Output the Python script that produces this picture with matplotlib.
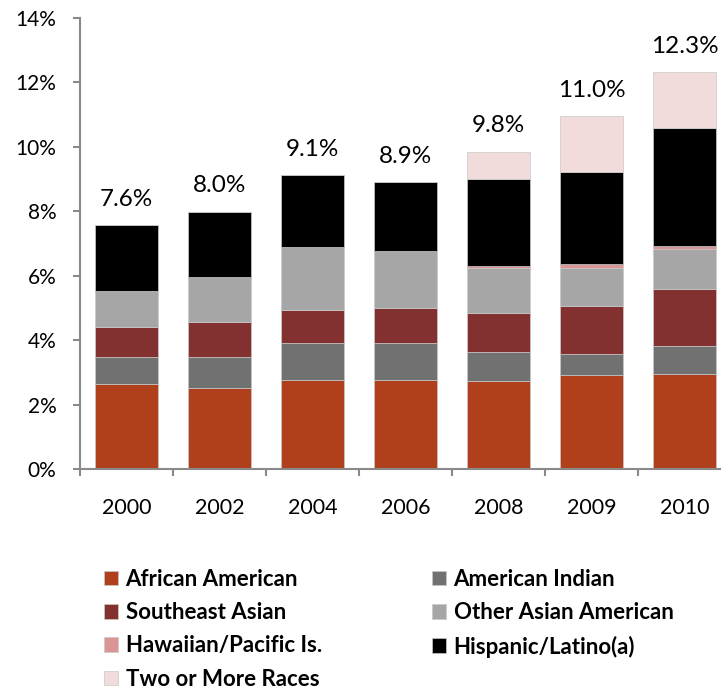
import numpy as np
import matplotlib.pyplot as plt
from matplotlib.ticker import FuncFormatter, FixedLocator

years = ["2000", "2002", "2004", "2006", "2008", "2009", "2010"]

african_american = [2.65, 2.51, 2.77, 2.77, 2.75, 2.91, 2.96]
american_indian = [0.82, 0.98, 1.15, 1.16, 0.90, 0.65, 0.86]
southeast_asian = [0.94, 1.08, 1.01, 1.07, 1.21, 1.49, 1.76]
other_asian = [1.11, 1.40, 1.97, 1.77, 1.37, 1.19, 1.26]
hawaiian_pacific = [0.0, 0.0, 0.0, 0.0, 0.08, 0.11, 0.08]
hispanic_latino = [2.04, 2.02, 2.23, 2.14, 2.68, 2.88, 3.67]
two_or_more = [0.0, 0.0, 0.0, 0.0, 0.86, 1.72, 1.73]

totals = [7.6, 8.0, 9.1, 8.9, 9.8, 11.0, 12.3]

series = [
    ("African American", african_american, "#b03f1b"),
    ("American Indian", american_indian, "#717171"),
    ("Southeast Asian", southeast_asian, "#833030"),
    ("Other Asian American", other_asian, "#a6a6a6"),
    ("Hawaiian/Pacific Is.", hawaiian_pacific, "#da9694"),
    ("Hispanic/Latino(a)", hispanic_latino, "#000000"),
    ("Two or More Races", two_or_more, "#f2dcdb"),
]

plt.rcParams["font.family"] = ["Lato", "DejaVu Sans"]

fig = plt.figure(figsize=(7.21, 6.89), dpi=100)
ax = fig.add_axes([80 / 721, 219.7 / 689, 1 - 80 / 721, 451.6 / 689])

x = np.arange(len(years))
bottom = np.zeros(len(years))
handles = {}
for name, vals, color in series:
    vals = np.array(vals)
    bars = ax.bar(x, vals, width=0.67, bottom=bottom, color=color,
                  edgecolor="#c8c8c8", linewidth=0.5, label=name)
    handles[name] = bars
    bottom = bottom + vals

for i, total in enumerate(totals):
    ax.annotate("%.1f%%" % total, (x[i], bottom[i]), xytext=(0, 11),
                textcoords="offset points", ha="center", va="bottom",
                fontsize=17.5)

ax.set_xlim(-0.5, -0.5 + 641 / 93)
ax.set_ylim(0, 14)
ax.set_yticks(np.arange(0, 15, 2))
ax.yaxis.set_major_formatter(FuncFormatter(lambda v, p: "%d%%" % v))
ax.set_xticks(x)
ax.set_xticklabels(years)
ax.xaxis.set_minor_locator(FixedLocator(np.arange(-0.5, 7, 1)))

spine_color = "#898989"
for side in ["top", "right"]:
    ax.spines[side].set_visible(False)
for side in ["left", "bottom"]:
    ax.spines[side].set_color(spine_color)
    ax.spines[side].set_linewidth(1.5)

ax.tick_params(axis="x", which="major", length=0, pad=21, labelsize=15.5)
ax.tick_params(axis="x", which="minor", length=5, width=1.5,
               color=spine_color, direction="out")
ax.tick_params(axis="y", length=5, width=1.5, color=spine_color,
               pad=12, labelsize=15)

left_names = ["African American", "Southeast Asian", "Hawaiian/Pacific Is.",
              "Two or More Races"]
right_names = ["American Indian", "Other Asian American", "Hispanic/Latino(a)"]

legend_kw = dict(frameon=False, prop={"weight": "bold", "size": 16},
                 handlelength=0.62, handleheight=0.62, handletextpad=0.35,
                 labelspacing=0.55, borderpad=0, borderaxespad=0)
leg1 = fig.legend([handles[n] for n in left_names], left_names,
                  loc="upper left", bbox_to_anchor=(104 / 721, 1 - 569 / 689),
                  **legend_kw)
leg2 = fig.legend([handles[n] for n in right_names], right_names,
                  loc="upper left", bbox_to_anchor=(432 / 721, 1 - 569 / 689),
                  **legend_kw)

fig.savefig("out.png", dpi=100)
